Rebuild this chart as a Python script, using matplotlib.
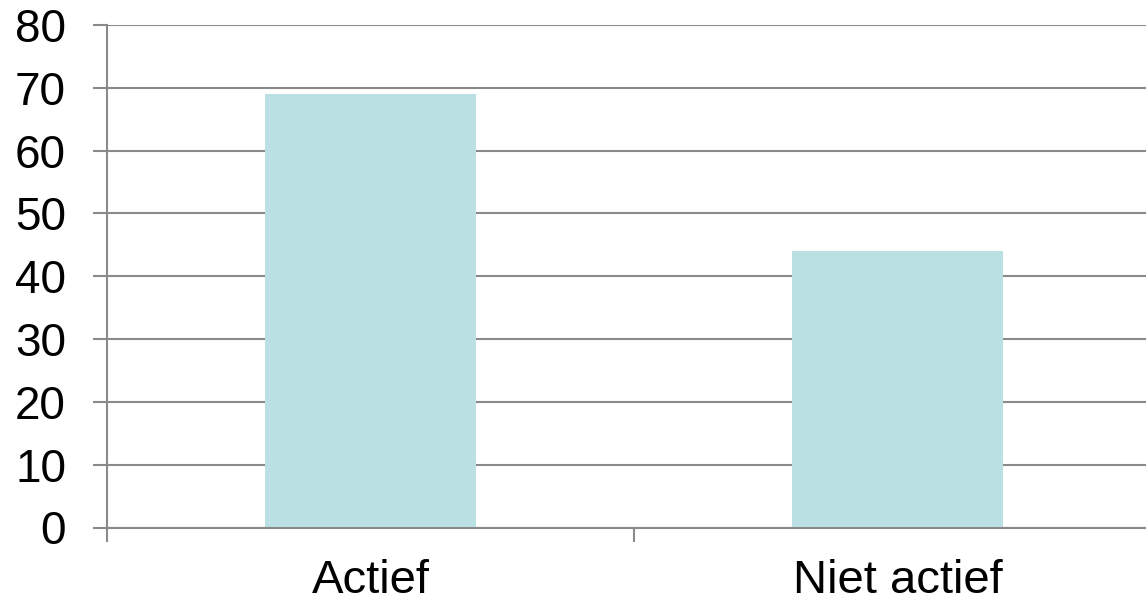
import matplotlib
matplotlib.use("Agg")
import matplotlib.pyplot as plt
from matplotlib.ticker import FixedLocator

categories = ["Actief", "Niet actief"]
values = [69, 44]
yticks = [0, 10, 20, 30, 40, 50, 60, 70, 80]

plt.rcParams['font.family'] = ['Liberation Sans', 'DejaVu Sans']

W, H = 1146, 604
fig = plt.figure(figsize=(W / 100, H / 100), dpi=100)
left_px, right_span_px = 107, 1054
y0_px, y80_px = 527.5, 25
ax = fig.add_axes([left_px / W, (H - y0_px) / H, right_span_px / W, (y0_px - y80_px) / H])

grid_color = "#8a8a8a"
bar_color = "#BBE0E3"

x = list(range(len(categories)))
ax.bar(x, values, width=0.4, color=bar_color, zorder=2)

ax.set_xlim(-0.5, len(categories) - 0.5)
ax.set_ylim(0, 80)
ax.set_yticks(yticks)
ax.set_yticklabels([str(v) for v in yticks])
ax.yaxis.grid(True, color=grid_color, linewidth=1.5, zorder=0)
ax.set_axisbelow(True)

# x axis: boundary ticks as major, labels at minor
ax.xaxis.set_major_locator(FixedLocator([-0.5, 0.5, 1.5]))
ax.xaxis.set_major_formatter(plt.NullFormatter())
ax.xaxis.set_minor_locator(FixedLocator(x))
ax.set_xticklabels(categories, minor=True)
ax.tick_params(axis='x', which='major', length=10, width=1.5, color=grid_color, direction='out')
ax.tick_params(axis='x', which='minor', length=0, pad=23, labelsize=34)
ax.tick_params(axis='y', which='major', length=10, width=1.5, color=grid_color, pad=19.5, labelsize=33)

for s in ['top', 'right']:
    ax.spines[s].set_visible(False)
for s in ['left', 'bottom']:
    ax.spines[s].set_color(grid_color)
    ax.spines[s].set_linewidth(1.5)

fig.savefig("out.png", dpi=100)
